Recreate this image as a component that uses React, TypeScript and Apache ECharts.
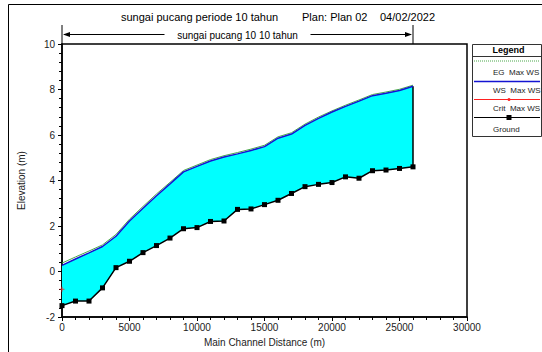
import React, { useEffect, useRef } from "react";
import * as echarts from "echarts";

// Profile stations along the main channel (m)
const distance = [
  0, 1000, 2000, 3000, 4000, 5000, 6000, 7000, 8000, 9000, 10000, 11000, 12000, 13000,
  14000, 15000, 16000, 17000, 18000, 19000, 20000, 21000, 22000, 23000, 24000, 25000, 26000,
];

// Channel bed (m)
const groundElev = [
  -1.5, -1.3, -1.3, -0.72, 0.17, 0.45, 0.83, 1.14, 1.47, 1.88, 1.93, 2.2, 2.22, 2.73,
  2.75, 2.94, 3.13, 3.43, 3.73, 3.83, 3.91, 4.16, 4.1, 4.43, 4.46, 4.53, 4.6,
];

// Water surface, Max WS profile (m)
const wsElev = [
  0.27, 0.55, 0.82, 1.1, 1.55, 2.22, 2.78, 3.33, 3.85, 4.38, 4.62, 4.86, 5.03, 5.17,
  5.32, 5.49, 5.86, 6.04, 6.42, 6.73, 7.01, 7.26, 7.49, 7.73, 7.84, 7.96, 8.14,
];

// Energy grade line, Max WS profile (m)
const egElev = [
  0.37, 0.64, 0.9, 1.17, 1.63, 2.3, 2.86, 3.41, 3.92, 4.44, 4.68, 4.92, 5.09, 5.23,
  5.38, 5.55, 5.92, 6.1, 6.48, 6.79, 7.06, 7.31, 7.54, 7.78, 7.89, 8.01, 8.19,
];

// Critical depth elevation (only computed at the downstream section)
const critDistance = [0];
const critElev = [-0.78];

const titleParts = ["sungai pucang periode 10 tahun", "Plan: Plan 02", "04/02/2022"];
const reachName = "sungai pucang 10 10 tahun";
const legendEntries = ["EG  Max WS", "WS  Max WS", "Crit  Max WS", "Ground"];

const FONT = "'Liberation Sans', Arial, Helvetica, sans-serif";
const TEXT = "#1c1c1c";
const EG_COLOR = "#4aa84a";
const WS_COLOR = "#1414d2";
const CRIT_COLOR = "#ff2020";
const FILL = "#00ffff";
const PLUS = "path://M2,0h1v2h2v1h-2v2h-1v-2h-2v-1h2z";

export default function App() {
  const ref = useRef<HTMLDivElement>(null);

  useEffect(() => {
    const chart = echarts.init(ref.current!, null, { renderer: "svg" });

    const pair = (ys: number[]) => distance.map((x, i) => [x, ys[i]]);

    chart.setOption({
      animation: false,
      textStyle: { fontFamily: FONT },
      grid: {
        left: 62,
        top: 44,
        width: 405,
        height: 276,
        show: true,
        borderColor: "#000",
        borderWidth: 1.5,
        backgroundColor: "transparent",
      },
      xAxis: {
        type: "value",
        min: 0,
        max: 30000,
        interval: 5000,
        name: "Main Channel Distance (m)",
        nameLocation: "middle",
        nameGap: 20,
        nameTextStyle: { fontSize: 10, color: TEXT, fontFamily: FONT },
        axisLine: { show: true, onZero: false, lineStyle: { color: "#000", width: 1.5 } },
        axisTick: { show: true, length: 4, lineStyle: { color: "#000" } },
        minorTick: { show: true, splitNumber: 5, length: 3, lineStyle: { color: "#000" } },
        axisLabel: {
          fontSize: 10,
          color: TEXT,
          margin: 5,
          fontFamily: FONT,
          formatter: (v: number) => String(v),
        },
        splitLine: { show: false },
      },
      yAxis: {
        type: "value",
        min: -2,
        max: 10,
        interval: 2,
        name: "Elevation (m)",
        nameLocation: "middle",
        nameGap: 36,
        nameTextStyle: { fontSize: 10, color: TEXT, fontFamily: FONT },
        axisLine: { show: true, onZero: false, lineStyle: { color: "#000", width: 1.5 } },
        axisTick: { show: true, length: 4, lineStyle: { color: "#000" } },
        minorTick: { show: true, splitNumber: 5, length: 3, lineStyle: { color: "#000" } },
        axisLabel: { fontSize: 10, color: TEXT, margin: 7, fontFamily: FONT },
        splitLine: { show: false },
      },
      series: [
        {
          // water body between the bed and the water surface
          type: "custom",
          silent: true,
          z: 1,
          data: pair(wsElev),
          renderItem: (params: any, api: any) => {
            if (params.dataIndex !== 0) return null;
            const top = distance.map((x, i) => api.coord([x, wsElev[i]]));
            const bottom = distance.map((x, i) => api.coord([x, groundElev[i]])).reverse();
            const last = distance.length - 1;
            const a = api.coord([distance[last], groundElev[last]]);
            const b = api.coord([distance[last], wsElev[last]]);
            return {
              type: "group",
              children: [
                {
                  type: "polygon",
                  shape: { points: top.concat(bottom) },
                  style: { fill: FILL, stroke: "none" },
                },
                {
                  type: "line",
                  shape: { x1: a[0], y1: a[1], x2: b[0], y2: b[1] },
                  style: { stroke: "#000", lineWidth: 1.5 },
                },
              ],
            };
          },
        },
        {
          name: "EG  Max WS",
          type: "line",
          z: 3,
          data: pair(egElev),
          showSymbol: false,
          lineStyle: { color: EG_COLOR, width: 1 },
        },
        {
          name: "WS  Max WS",
          type: "line",
          z: 4,
          data: pair(wsElev),
          showSymbol: false,
          lineStyle: { color: WS_COLOR, width: 1.5 },
        },
        {
          name: "Ground",
          type: "line",
          z: 5,
          data: pair(groundElev),
          symbol: "rect",
          symbolSize: 5,
          itemStyle: { color: "#000" },
          lineStyle: { color: "#000", width: 1.5 },
        },
        {
          name: "Crit  Max WS",
          type: "scatter",
          z: 6,
          data: critDistance.map((x, i) => [x, critElev[i]]),
          symbol: PLUS,
          symbolSize: 5,
          itemStyle: { color: CRIT_COLOR },
        },
      ],
    });

    // reach extent arrow, placed from the axis scale
    const [rx0] = chart.convertToPixel({ gridIndex: 0 }, [distance[0], 0]) as number[];
    const [rx1] = chart.convertToPixel(
      { gridIndex: 0 },
      [distance[distance.length - 1], 0]
    ) as number[];
    const rMid = (rx0 + rx1) / 2;
    const ay = 34.5;

    const lx = 472;
    const lw = 69;
    const lineY = [61, 81.5, 99.5, 117.5];
    const textY = [72.5, 90, 108, 129];
    const legendColors = [EG_COLOR, WS_COLOR, CRIT_COLOR, "#000"];

    const legendGraphics: any[] = [
      {
        type: "rect",
        shape: { x: lx + 0.5, y: 44.5, width: lw, height: 92 },
        style: { fill: "#fff", stroke: "#333", lineWidth: 1 },
      },
      {
        type: "text",
        x: lx + lw / 2 + 2,
        y: 49.5,
        style: {
          text: "Legend",
          font: `bold 9px ${FONT}`,
          fill: "#000",
          align: "center",
          verticalAlign: "middle",
        },
      },
      {
        type: "line",
        shape: { x1: lx, y1: 56.5, x2: lx + lw + 0.5, y2: 56.5 },
        style: { stroke: "#333", lineWidth: 1 },
      },
    ];
    legendEntries.forEach((label, i) => {
      legendGraphics.push({
        type: "line",
        shape: { x1: lx + 2, y1: lineY[i], x2: lx + lw - 1, y2: lineY[i] },
        style: {
          stroke: legendColors[i],
          lineWidth: i === 1 ? 1.5 : 1,
          lineDash: i === 0 ? [1, 1] : null,
        },
      });
      legendGraphics.push({
        type: "text",
        x: lx + 21,
        y: textY[i],
        style: {
          text: label,
          font: `8px ${FONT}`,
          fill: TEXT,
          align: "left",
          verticalAlign: "middle",
        },
      });
    });
    legendGraphics.push({
      type: "circle",
      shape: { cx: 509, cy: lineY[2], r: 1.5 },
      style: { fill: CRIT_COLOR },
    });
    legendGraphics.push({
      type: "rect",
      shape: { x: 506.5, y: lineY[3] - 2.5, width: 5, height: 5 },
      style: { fill: "#000" },
    });

    chart.setOption({
      graphic: [
        {
          type: "rect",
          silent: true,
          shape: { x: 8.5, y: 4.5, width: 600, height: 400 },
          style: { fill: "none", stroke: "#000", lineWidth: 1 },
        },
        {
          type: "text",
          x: 121,
          y: 16.5,
          style: { text: titleParts[0], font: `11px ${FONT}`, fill: "#000", verticalAlign: "middle" },
        },
        {
          type: "text",
          x: 302,
          y: 16.5,
          style: { text: titleParts[1], font: `11px ${FONT}`, fill: "#000", verticalAlign: "middle" },
        },
        {
          type: "text",
          x: 380,
          y: 16.5,
          style: { text: titleParts[2], font: `11px ${FONT}`, fill: "#000", verticalAlign: "middle" },
        },
        {
          type: "line",
          shape: { x1: rx0, y1: 25, x2: rx0, y2: 44 },
          style: { stroke: "#000", lineWidth: 1 },
        },
        {
          type: "line",
          shape: { x1: rx1, y1: 25, x2: rx1, y2: 44 },
          style: { stroke: "#000", lineWidth: 1 },
        },
        {
          type: "line",
          shape: { x1: rx0 + 2, y1: ay, x2: rMid - 73, y2: ay },
          style: { stroke: "#000", lineWidth: 1 },
        },
        {
          type: "line",
          shape: { x1: rMid + 73, y1: ay, x2: rx1 - 2, y2: ay },
          style: { stroke: "#000", lineWidth: 1 },
        },
        {
          type: "polygon",
          shape: { points: [[rx0 + 1, ay], [rx0 + 8, ay - 2.5], [rx0 + 8, ay + 2.5]] },
          style: { fill: "#000" },
        },
        {
          type: "polygon",
          shape: { points: [[rx1 - 1, ay], [rx1 - 8, ay - 2.5], [rx1 - 8, ay + 2.5]] },
          style: { fill: "#000" },
        },
        {
          type: "text",
          x: rMid,
          y: ay + 0.5,
          style: {
            text: reachName,
            font: `10px ${FONT}`,
            fill: "#000",
            align: "center",
            verticalAlign: "middle",
          },
        },
        ...legendGraphics,
      ],
    });

    return () => chart.dispose();
  }, []);

  return (
    <div
      ref={ref}
      style={{ position: "fixed", left: 0, top: 0, width: 542, height: 352, background: "#fff" }}
    />
  );
}
